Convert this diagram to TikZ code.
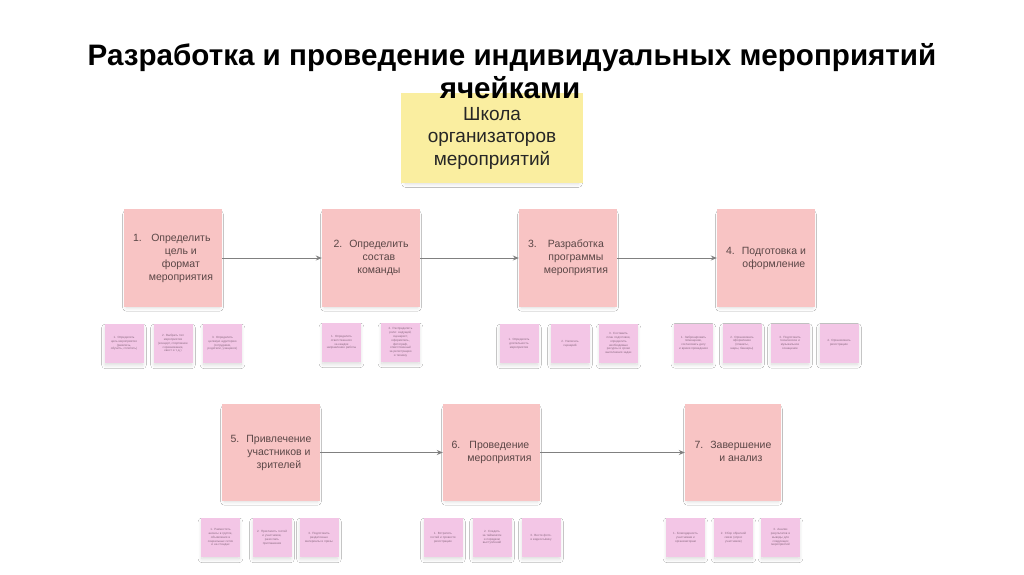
\documentclass[tikz,border=0pt]{standalone}
\usepackage{fontspec}
\setmainfont{Liberation Sans}
\usetikzlibrary{arrows.meta,shadows.blur}
\definecolor{stepfill}{HTML}{F8C4C4}
\definecolor{notefill}{HTML}{F3C6E6}
\definecolor{schoolfill}{HTML}{FAEEA0}
\definecolor{steptext}{HTML}{5A4646}
\definecolor{notetext}{HTML}{8A6A80}
\definecolor{arrowgray}{HTML}{808080}
\tikzset{
  softshadow/.style={blur shadow={shadow blur steps=10, shadow xshift=0pt, shadow yshift=-3pt, shadow opacity=16, shadow blur radius=4pt, shadow scale=0.95}},
  stepbox/.style={draw=none, fill=stepfill, minimum width=98pt, minimum height=98pt, inner sep=0pt,
    text=steptext, font=\fontsize{10.5}{13}\selectfont, softshadow},
  notebox/.style={draw=none, fill=notefill, minimum width=39pt, minimum height=39pt, inner sep=0pt,
    text=notetext, font=\fontsize{3}{3.8}\selectfont, align=center, text width=31pt, softshadow},
  flow/.style={draw=arrowgray, line width=1pt, -{Stealth[length=6pt,width=5pt]}},
}
\newcommand{\steptext}[2]{\begin{tabular}{@{}l@{\hspace{7pt}}c@{}}#1 & #2\end{tabular}}
\begin{document}
\begin{tikzpicture}[x=1pt,y=-1pt]
\useasboundingbox (0,0) rectangle (1024,574);
\fill[white] (0,0) rectangle (1024,574);

% school box
\node[fill=schoolfill, minimum width=182pt, minimum height=90pt, inner sep=0pt, softshadow,
  text=black!85, font=\fontsize{19}{22.5}\selectfont, align=center] (school) at (492,138)
  {Школа\\организаторов\\мероприятий};

% title
\node[anchor=base, font=\fontsize{29.6}{33}\selectfont\bfseries, inner sep=0pt] (title1) at (512,65)
  {Разработка и проведение индивидуальных мероприятий};
\node[anchor=base, font=\fontsize{29.6}{33}\selectfont\bfseries, inner sep=0pt] (title2) at (510,98)
  {ячейками};

% main steps
\node[stepbox] (s1) at (173,258) {\steptext{1.}{Определить\\ & цель и\\ & формат\\ & мероприятия}};
\node[stepbox] (s2) at (371,258) {\steptext{2.}{Определить\\ & состав\\ & команды}};
\node[stepbox] (s3) at (568,258) {\steptext{3.}{Разработка\\ & программы\\ & мероприятия}};
\node[stepbox] (s4) at (766,258) {\steptext{4.}{Подготовка и\\ & оформление}};
\node[stepbox, minimum height=97pt] (s5) at (271,452.5) {\steptext{5.}{Привлечение\\ & участников и\\ & зрителей}};
\node[stepbox, minimum width=97pt, minimum height=97pt] (s6) at (491.5,452.5) {\steptext{6.}{Проведение\\ & мероприятия}};
\node[stepbox, minimum width=96pt, minimum height=97pt] (s7) at (733,452.5) {\steptext{7.}{Завершение\\ & и анализ}};

\draw[flow] (s1) -- (s2);
\draw[flow] (s2) -- (s3);
\draw[flow] (s3) -- (s4);
\draw[flow] (s5) -- (s6);
\draw[flow] (s6) -- (s7);

% notes, step 1
\node[notebox] (n11) at (124,343.5) {1. Определить цель мероприятия (развлечь, обучить, сплотить)};
\node[notebox] (n12) at (173,343.5) {2. Выбрать тип мероприятия (концерт, спортивное соревнование, квест и т.\,д.)};
\node[notebox] (n13) at (222.5,343.5) {3. Определить целевую аудиторию (сотрудники, родители, учащиеся)};
% step 2
\node[notebox] (n21) at (341.5,342.5) {1. Определить ответственного за каждое направление работы};
\node[notebox] (n22) at (400.5,342.5) {2. Распределить роли: ведущий, сценарист, оформитель, фотограф, ответственный за регистрацию и технику};
% step 3
\node[notebox] (n31) at (519,343.5) {1. Определить длительность мероприятия};
\node[notebox] (n32) at (570,343.5) {2. Написать сценарий};
\node[notebox] (n33) at (618.5,343.5) {3. Составить план подготовки, определить необходимые ресурсы и сроки выполнения задач};
% step 4
\node[notebox] (n41) at (693.5,343) {1. Забронировать помещение, согласовать дату и время проведения};
\node[notebox] (n42) at (742,343) {2. Организовать оформление (плакаты, шары, баннеры)};
\node[notebox] (n43) at (790,343) {3. Подготовить техническое и музыкальное оснащение};
\node[notebox] (n44) at (839,343) {4. Организовать регистрацию};
% step 5
\node[notebox] (n51) at (220.5,537.5) {1. Разместить анонсы в группе, объявления в социальных сетях и на стендах};
\node[notebox] (n52) at (272,537.5) {2. Пригласить гостей и участников, разослать приглашения};
\node[notebox] (n53) at (319,537.5) {3. Подготовить раздаточные материалы и призы};
% step 6
\node[notebox] (n61) at (443,537.5) {1. Встретить гостей и провести регистрацию};
\node[notebox] (n62) at (492,537.5) {2. Следить за таймингом и порядком выступлений};
\node[notebox] (n63) at (541,537.5) {3. Вести фото- и видеосъёмку};
% step 7
\node[notebox] (n71) at (685.5,537.5) {1. Благодарность участникам и организаторам};
\node[notebox] (n72) at (733.5,537.5) {2. Сбор обратной связи (опрос участников)};
\node[notebox] (n73) at (780.5,537.5) {3. Анализ результатов и выводы для следующих мероприятий};
\end{tikzpicture}
\end{document}
